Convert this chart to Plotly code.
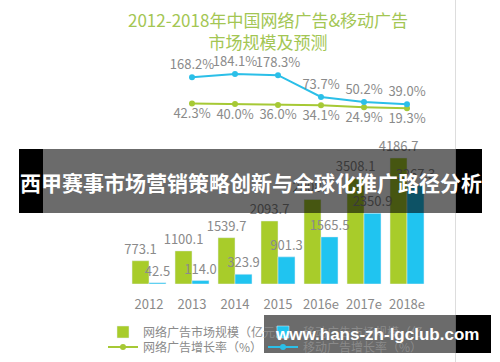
import plotly.graph_objects as go

W, H = 500, 362

# ---- data ----
years = ["2012", "2013", "2014", "2015", "2016e", "2017e", "2018e"]
online_ad = [773.1, 1100.1, 1539.7, 2093.7, 2808.7, 3508.1, 4186.7]
mobile_ad = [42.5, 114.0, 323.9, 901.3, 1565.5, 2350.9, 3267.3]
growth_years = ["2013", "2014", "2015", "2016e", "2017e", "2018e"]
online_growth = [42.3, 40.0, 36.0, 34.1, 24.9, 19.3]
mobile_growth = [168.2, 184.1, 178.3, 73.7, 50.2, 39.0]

title_text = "2012-2018年中国网络广告&移动广告<br>市场规模及预测"
banner_text = "西甲赛事市场营销策略创新与全球化推广路径分析"
watermark_text = "www.hans-zh-lgclub.com"
legend_names = ["网络广告市场规模（亿元）", "移动广告市场规模（亿元）",
                "网络广告增长率（%）", "移动广告增长率（%）"]

GREEN = "#a8cc2a"
BLUE = "#20c4f0"
LGREEN = "#a6c935"
LBLUE = "#2bbfe8"
GRAY = "#8a8a8a"
FONT = "Noto Sans CJK SC"


def px(x):
    return x / W


def py(y):
    return 1 - y / H


fig = go.Figure()

fig.add_trace(go.Bar(
    x=years, y=online_ad, name=legend_names[0], marker_color=GREEN,
    text=[f"{v:.1f}" for v in online_ad], textposition="outside",
    constraintext="none", cliponaxis=False,
    textfont=dict(color=GRAY, size=13, family=FONT), legend="legend",
))
fig.add_trace(go.Bar(
    x=years, y=mobile_ad, name=legend_names[1], marker_color=BLUE,
    text=[f"{v:.1f}" for v in mobile_ad], textposition="outside",
    constraintext="none", cliponaxis=False,
    textfont=dict(color=GRAY, size=13, family=FONT), legend="legend",
))
fig.add_trace(go.Scatter(
    x=growth_years, y=online_growth, name=legend_names[2], yaxis="y2",
    mode="lines+markers+text", line=dict(color=LGREEN, width=2),
    marker=dict(size=6, color=LGREEN),
    text=[f"{v:.1f}%" for v in online_growth], textposition="bottom center",
    textfont=dict(color=GRAY, size=13, family=FONT), cliponaxis=False,
    legend="legend2",
))
fig.add_trace(go.Scatter(
    x=growth_years, y=mobile_growth, name=legend_names[3], yaxis="y2",
    mode="lines+markers+text", line=dict(color=LBLUE, width=2),
    marker=dict(size=6, color=LBLUE),
    text=[f"{v:.1f}%" for v in mobile_growth], textposition="top center",
    textfont=dict(color=GRAY, size=13, family=FONT), cliponaxis=False,
    legend="legend2",
))

shapes = [
    # thin vertical separator of the original picture
    dict(type="line", xref="paper", yref="paper", x0=px(455.5), x1=px(455.5),
         y0=0, y1=1, line=dict(color="#dddddd", width=1), layer="below"),
    # title banner
    dict(type="rect", xref="paper", yref="paper", x0=px(19), x1=px(43),
         y0=py(213), y1=py(149), fillcolor="black", line_width=0, layer="above"),
    dict(type="rect", xref="paper", yref="paper", x0=px(43), x1=px(456),
         y0=py(213), y1=py(149), fillcolor="black", opacity=0.58, line_width=0, layer="above"),
    dict(type="rect", xref="paper", yref="paper", x0=px(456), x1=px(482),
         y0=py(213), y1=py(149), fillcolor="black", line_width=0, layer="above"),
    # watermark
    dict(type="rect", xref="paper", yref="paper", x0=px(264), x1=px(456),
         y0=py(353), y1=py(315), fillcolor="black", opacity=0.58, line_width=0, layer="above"),
    dict(type="rect", xref="paper", yref="paper", x0=px(456), x1=px(491),
         y0=py(353), y1=py(315), fillcolor="black", line_width=0, layer="above"),
]

annotations = [
    dict(text=title_text, xref="paper", yref="paper", x=px(268), y=py(30.5),
         xanchor="center", yanchor="middle", showarrow=False,
         font=dict(family=FONT, size=17, color="#a3c653")),
    dict(text=banner_text, xref="paper", yref="paper", x=px(250.5), y=py(182),
         xanchor="center", yanchor="middle", showarrow=False,
         font=dict(family=FONT, size=21, color="white", weight="bold")),
    dict(text=watermark_text, xref="paper", yref="paper", x=px(377), y=py(334),
         xanchor="center", yanchor="middle", showarrow=False,
         font=dict(family="Liberation Sans", size=17, color="white", weight="bold")),
]

fig.update_layout(
    width=W, height=H,
    margin=dict(l=0, r=0, t=0, b=0, autoexpand=False),
    paper_bgcolor="white", plot_bgcolor="white",
    barmode="group", bargap=0.21, bargroupgap=0,
    xaxis=dict(domain=[px(127.5), px(428.5)], showgrid=False, showline=False,
               zeroline=False, ticks="outside", ticklen=8, tickcolor="rgba(0,0,0,0)",
               tickfont=dict(family=FONT, size=13, color=GRAY)),
    yaxis=dict(domain=[py(284), py(50)], range=[0, 234 / 0.0301], visible=False),
    yaxis2=dict(overlaying="y", range=[(112.4 - 284) / 0.2088, (112.4 - 50) / 0.2088],
                visible=False),
    legend=dict(orientation="h", x=px(103), xanchor="left", y=py(332), yanchor="middle",
                entrywidth=115, entrywidthmode="pixels", bgcolor="rgba(0,0,0,0)",
                font=dict(family=FONT, size=12, color=GRAY), traceorder="normal"),
    legend2=dict(orientation="h", x=px(103), xanchor="left", y=py(347), yanchor="middle",
                 entrywidth=115, entrywidthmode="pixels", bgcolor="rgba(0,0,0,0)",
                 font=dict(family=FONT, size=12, color=GRAY), traceorder="normal"),
    shapes=shapes,
    annotations=annotations,
    showlegend=True,
)

fig.write_html(
    "out.html",
    config={"displayModeBar": False},
    post_script="document.body.style.margin='0';document.body.style.overflow='hidden';",
)
